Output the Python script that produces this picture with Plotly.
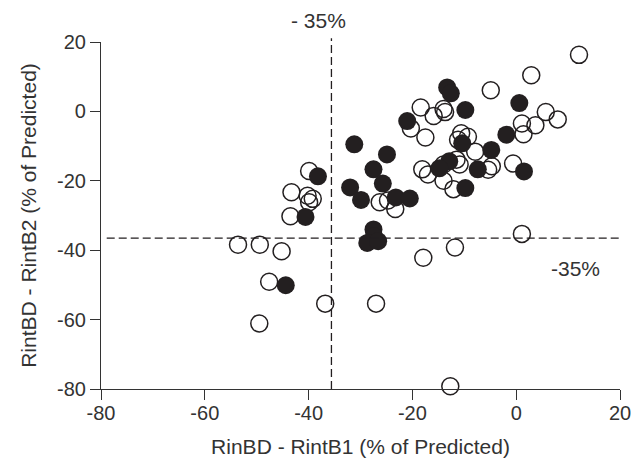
import plotly.graph_objects as go

# Open circles
open_x = [12.1, 2.9, -4.9, -18.4, -15.9, -14.0, -13.7, 1.1, 3.7, 5.7, 8.0, 1.4,
          -20.3, -17.5, -10.6, -9.3, -11.2, -7.9, -0.6, -18.1, -17.0, -14.0, -11.5,
          -10.9, -14.0, -12.1, -5.4, -4.7, -39.9, -43.3, -40.2, -39.2, -39.9, -43.5,
          -26.3, -24.7, -23.3, 1.1, -53.6, -49.4, -45.2, -11.8, -17.9, -47.6, -36.8,
          -27.0, -49.5, -12.7]
open_y = [16.3, 10.4, 6.1, 1.1, -1.3, 0.7, -0.2, -3.5, -4.0, -0.2, -2.3, -6.6,
          -4.9, -7.5, -6.3, -7.3, -8.2, -11.6, -15.0, -16.7, -18.2, -15.3, -13.9,
          -15.3, -20.0, -22.4, -16.8, -15.8, -17.2, -23.3, -24.3, -25.2, -26.2, -30.2,
          -26.2, -25.7, -28.1, -35.3, -38.4, -38.4, -40.3, -39.2, -42.2, -49.1, -55.4,
          -55.4, -61.1, -79.2]

# Filled circles
fill_x = [-13.3, -12.6, -9.8, 0.6, -21.0, -1.9, -31.2, -10.4, -24.9, -4.8, -12.9,
          -14.8, -7.4, 1.5, -27.5, -38.2, -25.7, -32.0, -9.8, -29.9, -23.2, -20.5,
          -40.6, -27.5, -27.4, -28.7, -26.6, -44.4]
fill_y = [6.9, 5.2, 0.4, 2.4, -2.8, -6.7, -9.5, -9.2, -12.4, -11.1, -14.4,
          -16.4, -16.7, -17.3, -16.7, -18.7, -20.8, -21.9, -22.1, -25.5, -24.8, -25.1,
          -30.4, -34.0, -36.0, -37.9, -37.4, -50.1]

tick_vals = [-80, -60, -40, -20, 0, 20]
tick_text = ["-80", "-60", "-40", "-20", "0", "20"]

X_RANGE = [-80, 20]
Y_RANGE = [-80, 20]
THRESH_X = -35.6
THRESH_Y = -36.5

INK = "#231f20"
TXT = "#333333"
FONT = "Liberation Sans, Arial, sans-serif"


def px(v):
    return (v - X_RANGE[0]) / (X_RANGE[1] - X_RANGE[0])


def py(v):
    return (v - Y_RANGE[0]) / (Y_RANGE[1] - Y_RANGE[0])


fig = go.Figure()
fig.add_trace(go.Scatter(
    x=open_x, y=open_y, mode="markers",
    marker=dict(symbol="circle-open", size=17, color=INK, line=dict(width=1.5, color=INK)),
    showlegend=False, cliponaxis=False))
fig.add_trace(go.Scatter(
    x=fill_x, y=fill_y, mode="markers",
    marker=dict(symbol="circle", size=18, color=INK, line=dict(width=0)),
    showlegend=False, cliponaxis=False))

dash = dict(color=INK, width=1.3, dash="8px,4px")
fig.add_shape(type="line", xref="paper", yref="paper",
              x0=px(THRESH_X), x1=px(THRESH_X), y0=0, y1=1.011, line=dash)
fig.add_shape(type="line", xref="paper", yref="paper",
              x0=0.011, x1=1.0, y0=py(THRESH_Y), y1=py(THRESH_Y), line=dash)

fig.add_annotation(text="- 35%", xref="x", yref="paper", x=-38.0, y=1.062,
                   xanchor="center", yanchor="middle", showarrow=False,
                   font=dict(family=FONT, size=21, color=TXT))
fig.add_annotation(text="-35%", xref="x", yref="y", x=11.5, y=-45.2,
                   xanchor="center", yanchor="middle", showarrow=False,
                   font=dict(family=FONT, size=21, color=TXT))

axis_common = dict(
    showgrid=False, zeroline=False, showline=True, linecolor="#333333", linewidth=1.2,
    ticks="outside", ticklen=10, tickwidth=1.2, tickcolor="#333333",
    tickvals=tick_vals, ticktext=tick_text,
    tickfont=dict(family=FONT, size=20, color=TXT),
)

# page body has an 8px margin: shrink the figure so that it fits the window
fig.update_layout(
    width=635, height=459,
    margin=dict(l=93, r=13, t=34, b=72),
    paper_bgcolor="white", plot_bgcolor="white",
    xaxis=dict(range=X_RANGE, ticklabelstandoff=-4,
               title=dict(text="RinBD - RintB1 (% of Predicted)",
               font=dict(family=FONT, size=21, color=TXT), standoff=16), **axis_common),
    yaxis=dict(range=Y_RANGE, title=dict(text="RintBD - RintB2 (% of Predicted)",
               font=dict(family=FONT, size=21, color=TXT), standoff=14), **axis_common),
)

fig.write_html("out.html")
